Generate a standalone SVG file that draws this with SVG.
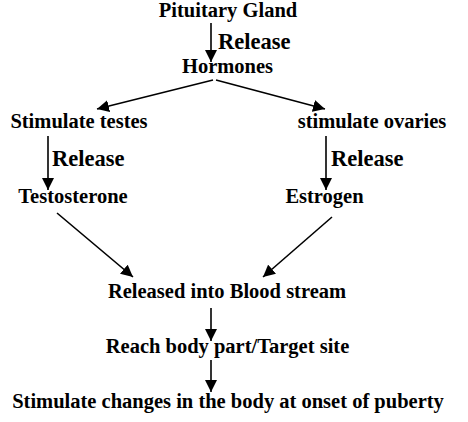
<svg xmlns="http://www.w3.org/2000/svg" width="468" height="422" viewBox="0 0 468 422">
<style>
text{font-family:"Liberation Serif","Times New Roman",serif;font-weight:bold;fill:#000}
.n{font-size:20.5px;text-anchor:middle}
.r{font-size:22.5px}
.c{stroke:#000;stroke-width:1.6;fill:none;marker-end:url(#ah)}
</style>
<defs>
<marker id="ah" viewBox="0 0 12 12" refX="12" refY="6" markerWidth="12" markerHeight="12" markerUnits="userSpaceOnUse" orient="auto">
<path d="M0,0 L12,6 L0,12 z" fill="#000"/>
</marker>
</defs>
<rect width="468" height="422" fill="#fff"/>
<g id="connectors">
<line class="c" x1="211" y1="23" x2="211" y2="62"/>
<line class="c" x1="213" y1="80" x2="97" y2="109"/>
<line class="c" x1="216" y1="80" x2="325" y2="109"/>
<line class="c" x1="48" y1="136" x2="48" y2="190"/>
<line class="c" x1="326" y1="136" x2="326" y2="190"/>
<line class="c" x1="57" y1="213" x2="133" y2="277"/>
<line class="c" x1="332" y1="217" x2="263" y2="277"/>
<line class="c" x1="211" y1="308" x2="211" y2="341"/>
<line class="c" x1="211" y1="360" x2="211" y2="392"/>
<text class="r" x="218" y="49">Release</text>
<text class="r" x="52" y="166">Release</text>
<text class="r" x="331" y="166">Release</text>
</g>
<g id="pituitary"><text class="n" x="228" y="17">Pituitary Gland</text></g>
<g id="hormones"><text class="n" x="227.5" y="73">Hormones</text></g>
<g id="testes"><text class="n" x="79" y="128">Stimulate testes</text></g>
<g id="ovaries"><text class="n" x="372" y="128">stimulate ovaries</text></g>
<g id="testosterone"><text class="n" x="73" y="203">Testosterone</text></g>
<g id="estrogen"><text class="n" x="324.5" y="203">Estrogen</text></g>
<g id="blood"><text class="n" x="227" y="298">Released into Blood stream</text></g>
<g id="target"><text class="n" x="227.5" y="353">Reach body part/Target site</text></g>
<g id="puberty"><text class="n" x="228" y="408">Stimulate changes in the body at onset of puberty</text></g>
</svg>
